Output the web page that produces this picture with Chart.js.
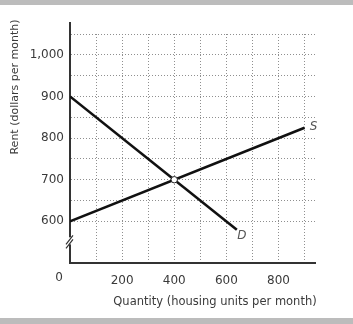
<!DOCTYPE html>
<html>
<head>
<meta charset="utf-8">
<script src="https://cdn.jsdelivr.net/npm/chart.js@4/dist/chart.umd.min.js"></script>
<style>
  html, body { margin: 0; padding: 0; background: #fff; }
</style>
</head>
<body>
<canvas id="chart" width="353" height="324"></canvas>
<script>
// supply and demand for housing
const supplyQty = [0, 900];
const supplyRent = [600, 825];
const demandQty = [0, 640];
const demandRent = [900, 580];
const eqQty = [400];
const eqRent = [700];

const xGrid = [100, 200, 300, 400, 500, 600, 700, 800, 900];
const xLabels = [200, 400, 600, 800];
const yGrid = [600, 650, 700, 750, 800, 850, 900, 950, 1000, 1050];
const yLabels = [600, 700, 800, 900, 1000];
const curveNames = ['S', 'D'];

const FONT = 'DejaVu Sans';
const INK = '#3a3a3a';

const toPoints = (xs, ys) => xs.map((x, i) => ({ x: x, y: ys[i] }));

const decorations = {
    id: 'decorations',
    beforeDraw(chart) {
        const ctx = chart.ctx;
        ctx.save();
        ctx.fillStyle = '#bcbcbc';
        ctx.fillRect(0, 0, chart.width, 5);
        ctx.fillRect(0, 318, chart.width, 6);
        ctx.restore();
    },
    afterDraw(chart) {
        const ctx = chart.ctx;
        const area = chart.chartArea;
        const yScale = chart.scales.y;
        ctx.save();

        // axis runs a little above the grid
        ctx.strokeStyle = '#333';
        ctx.lineWidth = 2;
        ctx.beginPath();
        ctx.moveTo(area.left, area.top);
        ctx.lineTo(area.left, 22);
        ctx.stroke();

        // break marks on the rent axis
        const by = yScale.getPixelForValue(552);
        ctx.fillStyle = '#fff';
        ctx.fillRect(area.left - 2, by - 4, 4, 7);
        ctx.lineWidth = 1.2;
        ctx.beginPath();
        ctx.moveTo(area.left - 4, by + 3);
        ctx.lineTo(area.left + 3, by - 6);
        ctx.moveTo(area.left - 4, by + 7);
        ctx.lineTo(area.left + 3, by - 2);
        ctx.stroke();

        // curve names at the end of each line
        ctx.fillStyle = '#555';
        ctx.font = 'italic 12px ' + FONT;
        ctx.textAlign = 'center';
        ctx.textBaseline = 'middle';
        const offsets = [[9, -1], [5, 6]];
        curveNames.forEach((name, i) => {
            const pts = chart.getDatasetMeta(i).data;
            const end = pts[pts.length - 1];
            ctx.fillText(name, end.x + offsets[i][0], end.y + offsets[i][1]);
        });

        // axis titles and origin label
        ctx.fillStyle = INK;
        ctx.font = '12px ' + FONT;
        ctx.fillText('0', 59, 278);
        ctx.font = '11.5px ' + FONT;
        ctx.fillText('Quantity (housing units per month)', 215, 302);
        ctx.font = '11px ' + FONT;
        ctx.translate(15, 87);
        ctx.rotate(-Math.PI / 2);
        ctx.fillText('Rent (dollars per month)', 0, 0);
        ctx.restore();
    }
};

const lineStyle = {
    borderColor: '#111',
    borderWidth: 2.6,
    pointRadius: 0,
    fill: false,
    tension: 0,
    order: 1
};

new Chart(document.getElementById('chart'), {
    type: 'line',
    data: {
        datasets: [
            Object.assign({ label: 'S', data: toPoints(supplyQty, supplyRent) }, lineStyle),
            Object.assign({ label: 'D', data: toPoints(demandQty, demandRent) }, lineStyle),
            {
                label: 'equilibrium',
                data: toPoints(eqQty, eqRent),
                showLine: false,
                order: 0,
                pointRadius: 3.2,
                pointBackgroundColor: '#fff',
                pointBorderColor: '#222',
                pointBorderWidth: 1
            }
        ]
    },
    options: {
        responsive: false,
        animation: false,
        layout: { padding: { left: 0, right: 38, top: 34, bottom: 0 } },
        plugins: {
            legend: { display: false },
            tooltip: { enabled: false }
        },
        scales: {
            x: {
                type: 'linear',
                min: 0,
                max: 940,
                afterBuildTicks: (scale) => { scale.ticks = xGrid.map(v => ({ value: v })); },
                afterFit: (scale) => { scale.height = 61; },
                grid: { color: '#8f8f8f', lineWidth: 1, drawTicks: false },
                border: { display: true, color: '#333', width: 2, dash: [1, 2] },
                ticks: {
                    padding: 11,
                    color: INK,
                    font: { family: FONT, size: 12 },
                    maxRotation: 0,
                    autoSkip: false,
                    callback: (v) => xLabels.includes(v) ? String(v) : ''
                }
            },
            y: {
                type: 'linear',
                min: 500,
                max: 1050,
                afterBuildTicks: (scale) => { scale.ticks = yGrid.map(v => ({ value: v })); },
                afterFit: (scale) => { scale.width = 70; },
                grid: { color: '#8f8f8f', lineWidth: 1, drawTicks: false },
                border: { display: true, color: '#333', width: 2, dash: [1, 2] },
                ticks: {
                    padding: 6,
                    color: INK,
                    font: { family: FONT, size: 12 },
                    autoSkip: false,
                    callback: (v) => yLabels.includes(v) ? v.toLocaleString('en-US') : ''
                }
            }
        }
    },
    plugins: [decorations]
});
</script>
</body>
</html>
